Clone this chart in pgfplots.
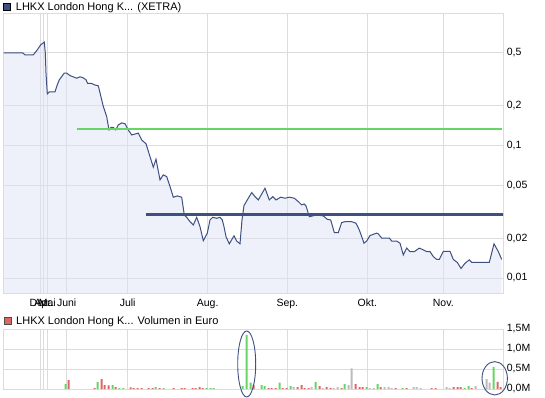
\documentclass[border=0pt]{standalone}
\usepackage{fontspec}
\setmainfont{Liberation Sans}
\usepackage{pgfplots}
\pgfplotsset{compat=1.18}
\definecolor{pline}{HTML}{3E5082}
\definecolor{pfill}{HTML}{DDE3F3}
\definecolor{gridc}{HTML}{DCDCDC}
\definecolor{vgreen}{HTML}{66D466}
\definecolor{vred}{HTML}{E06666}
\definecolor{vgray}{HTML}{BBBBBB}
\begin{document}
\begin{tikzpicture}[x=1pt,y=1pt]
\useasboundingbox (0,0) rectangle (545,398);
\pgfplotsset{
  every tick label/.append style={font=\fontsize{10.5}{12}\selectfont},
  chartbase/.style={
    scale only axis, width=500pt, xmin=3, xmax=503,
    axis line style={draw=gridc},
    major tick length=0pt,
    grid=major, major grid style={draw=gridc, line width=0.8pt},
    xtick={40.3,43.7,47.3,66.7,127.7,207.7,287.3,367.3,443.3},
    yticklabel pos=right,
    y tick label style={anchor=west, inner sep=0pt, xshift=3.7pt},
  }
}
\begin{axis}[chartbase, at={(3pt,105pt)}, anchor=south west, height=280pt,
  ymode=log, ymin=0.0077, ymax=1.0, log origin y=infty,
  xticklabels={Dez.,Apr.,Mai,Juni,Juli,Aug.,Sep.,Okt.,Nov.},
  x tick label style={anchor=north, inner sep=0pt, yshift=-6pt},
  ytick={0.01,0.02,0.05,0.1,0.2,0.5},
  yticklabels={{0,01},{0,02},{0,05},{0,1},{0,2},{0,5}},
]
\addplot[draw=none, fill=pfill, fill opacity=0.5] table {
x y
3.7 0.500
22.7 0.500
25 0.483
33.3 0.483
37.3 0.527
40.7 0.575
44.3 0.603
45.3 0.500
46 0.353
47.3 0.245
49.3 0.254
55 0.254
57.3 0.287
59.3 0.313
61.7 0.331
64.3 0.352
66.7 0.352
70 0.337
76.7 0.322
80 0.330
83.3 0.324
86 0.313
87.7 0.294
91.7 0.294
94.3 0.287
98.3 0.282
100 0.250
103.3 0.197
106.7 0.165
109 0.131
111 0.137
113.3 0.137
115.7 0.131
118.3 0.143
121.7 0.148
125 0.146
128.3 0.131
131.7 0.120
138.3 0.124
141.7 0.110
146 0.103
150 0.0824
153.3 0.0686
156 0.0788
160 0.0550
163.3 0.0600
166.7 0.0582
170 0.0490
173.3 0.0407
177.3 0.0416
181.7 0.0407
184.3 0.0299
186.7 0.0287
190 0.0266
193.3 0.0251
196.7 0.0287
200 0.0244
203.3 0.0191
207.3 0.0218
210 0.0274
212.7 0.0287
216.7 0.0282
220 0.0287
222.3 0.0274
224 0.0244
226 0.0205
229.3 0.0181
234 0.0208
236.7 0.0190
240 0.0181
242 0.0274
244 0.0352
248.3 0.0400
251.7 0.0441
255 0.0411
258.3 0.0388
265 0.0476
269.3 0.0388
272.7 0.0411
276 0.0388
280.7 0.0407
285 0.0400
289.3 0.0407
294.3 0.0400
298.3 0.0377
301.7 0.0356
304 0.0362
306 0.0350
309.3 0.0290
312.7 0.0294
316.7 0.0299
323.3 0.0294
327.3 0.0277
330.7 0.0274
334.3 0.0220
338.3 0.0220
341.7 0.0262
345 0.0266
351.7 0.0266
356 0.0259
359.3 0.0230
361.7 0.0205
364 0.0183
366.7 0.0190
370 0.0209
376.7 0.0218
378.3 0.0215
381.7 0.0200
389.3 0.0200
391.7 0.0190
396.7 0.0190
400 0.0183
403.3 0.0149
406.7 0.0168
410 0.0158
414.3 0.0158
419.3 0.0168
423.3 0.0163
426.7 0.0158
430 0.0158
433.3 0.0145
436.7 0.0138
439.3 0.0138
443.3 0.0159
450 0.0159
453.3 0.0138
457.3 0.0131
461 0.0118
465 0.0129
469.3 0.0137
471.7 0.0131
489.3 0.0131
494 0.0181
498.3 0.0158
501.7 0.0138
} \closedcycle;
\addplot[pline, line width=1pt] table {
x y
3.7 0.500
22.7 0.500
25 0.483
33.3 0.483
37.3 0.527
40.7 0.575
44.3 0.603
45.3 0.500
46 0.353
47.3 0.245
49.3 0.254
55 0.254
57.3 0.287
59.3 0.313
61.7 0.331
64.3 0.352
66.7 0.352
70 0.337
76.7 0.322
80 0.330
83.3 0.324
86 0.313
87.7 0.294
91.7 0.294
94.3 0.287
98.3 0.282
100 0.250
103.3 0.197
106.7 0.165
109 0.131
111 0.137
113.3 0.137
115.7 0.131
118.3 0.143
121.7 0.148
125 0.146
128.3 0.131
131.7 0.120
138.3 0.124
141.7 0.110
146 0.103
150 0.0824
153.3 0.0686
156 0.0788
160 0.0550
163.3 0.0600
166.7 0.0582
170 0.0490
173.3 0.0407
177.3 0.0416
181.7 0.0407
184.3 0.0299
186.7 0.0287
190 0.0266
193.3 0.0251
196.7 0.0287
200 0.0244
203.3 0.0191
207.3 0.0218
210 0.0274
212.7 0.0287
216.7 0.0282
220 0.0287
222.3 0.0274
224 0.0244
226 0.0205
229.3 0.0181
234 0.0208
236.7 0.0190
240 0.0181
242 0.0274
244 0.0352
248.3 0.0400
251.7 0.0441
255 0.0411
258.3 0.0388
265 0.0476
269.3 0.0388
272.7 0.0411
276 0.0388
280.7 0.0407
285 0.0400
289.3 0.0407
294.3 0.0400
298.3 0.0377
301.7 0.0356
304 0.0362
306 0.0350
309.3 0.0290
312.7 0.0294
316.7 0.0299
323.3 0.0294
327.3 0.0277
330.7 0.0274
334.3 0.0220
338.3 0.0220
341.7 0.0262
345 0.0266
351.7 0.0266
356 0.0259
359.3 0.0230
361.7 0.0205
364 0.0183
366.7 0.0190
370 0.0209
376.7 0.0218
378.3 0.0215
381.7 0.0200
389.3 0.0200
391.7 0.0190
396.7 0.0190
400 0.0183
403.3 0.0149
406.7 0.0168
410 0.0158
414.3 0.0158
419.3 0.0168
423.3 0.0163
426.7 0.0158
430 0.0158
433.3 0.0145
436.7 0.0138
439.3 0.0138
443.3 0.0159
450 0.0159
453.3 0.0138
457.3 0.0131
461 0.0118
465 0.0129
469.3 0.0137
471.7 0.0131
489.3 0.0131
494 0.0181
498.3 0.0158
501.7 0.0138
};
\addplot[vgreen, line width=2pt] coordinates {(77,0.134) (501.7,0.134)};
\addplot[pline, line width=2.7pt] coordinates {(146,0.0303) (504,0.0303)};
\end{axis}

\begin{axis}[chartbase, at={(3pt,9pt)}, anchor=south west, height=60pt,
  ymin=0, ymax=1500000, scaled y ticks=false,
  xticklabels={},
  ytick={0,500000,1000000,1500000},
  yticklabels={{0,0M},{0,5M},{1,0M},{1,5M}},
  ybar, bar width=2pt, bar shift=0pt,
]
\addplot[fill=vgreen, draw=none] coordinates {
(65.7,125000) (97.7,175000) (112.7,100000) (119.3,25000) (123.3,25000)
(155.7,50000) (163.7,25000) (206.7,25000) (210.7,25000) (213.7,25000)
(242.7,75000) (246.7,1350000) (250.7,160000) (261.7,100000) (264.7,75000)
(279.7,160000) (290.7,75000) (315.7,180000) (344.7,125000) (366.7,50000)
(377.7,125000) (402.7,25000) (464.7,25000) (468.7,75000) (493.7,550000)
};
\addplot[fill=vred, draw=none] coordinates {
(68.7,225000) (94.7,25000) (101.7,250000) (104.7,100000) (108.7,92000)
(115.7,50000) (130.7,40000) (133.7,25000) (137.7,25000) (141.7,25000)
(148.7,25000) (152.7,25000) (159.7,25000) (173.7,25000) (181.7,25000)
(184.7,25000) (192.7,25000) (195.7,25000) (199.7,50000) (202.7,25000)
(253.7,100000) (268.7,25000) (271.7,25000) (275.7,25000) (282.7,25000)
(286.7,25000) (297.7,50000) (301.7,100000) (304.7,25000) (308.7,25000)
(319.7,75000) (326.7,50000) (330.7,25000) (341.7,25000) (355.7,125000)
(359.7,50000) (362.7,50000) (380.7,50000) (395.7,25000) (406.7,25000)
(431.7,25000) (435.7,25000) (453.7,50000) (457.7,50000) (460.7,50000)
(471.7,25000) (497.7,180000) (500.7,50000)
};
\addplot[fill=vgray, draw=none] coordinates {
(293.7,50000) (311.7,50000) (322.7,25000) (333.7,25000) (337.7,50000)
(348.7,100000) (351.7,517000) (369.7,25000) (373.7,25000) (384.7,50000)
(388.7,50000) (391.7,25000) (413.7,50000) (416.7,50000) (420.7,25000)
(446.7,50000) (449.7,25000) (475.7,75000) (486.7,250000) (489.7,160000)
};
\end{axis}

% annotation ellipses
\draw[pline, line width=0.9pt] (246.7,34) ellipse [x radius=9, y radius=33];
\draw[pline, line width=0.9pt] (494.7,19.7) ellipse [x radius=12.7, y radius=16.7];

% panel titles
\fill[pline, draw=black, line width=0.6pt] (3.3,387.5) rectangle (10.7,395);
\node[anchor=base west, inner sep=0pt, font=\fontsize{11}{13}\selectfont] at (15.7,387.3) {LHKX London Hong K... (XETRA)};
\fill[vred, draw=black!70, line width=0.6pt] (3.8,73.3) rectangle (10.8,80.8);
\node[anchor=base west, inner sep=0pt, font=\fontsize{11}{13}\selectfont] at (16,73) {LHKX London Hong K... Volumen in Euro};
\end{tikzpicture}
\end{document}
